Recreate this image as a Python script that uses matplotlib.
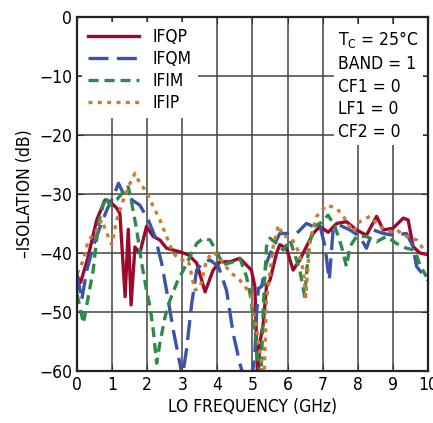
import numpy as np
import matplotlib
matplotlib.use("Agg")
import matplotlib.pyplot as plt

plt.rcParams['font.family'] = ['DejaVu Sans']
plt.rcParams['font.stretch'] = 'condensed'

# IFQP (solid red)
qp_f = [0.0, 0.1, 0.3, 0.56, 0.8, 0.94, 1.13, 1.22, 1.37, 1.46, 1.54, 1.65, 1.79, 1.98, 2.17,
        2.36, 2.55, 2.93, 3.17, 3.41, 3.65, 3.88, 4.07, 4.36, 4.64, 4.97, 5.07, 5.15, 5.21, 5.31,
        5.40, 5.50, 5.69, 5.78, 5.97, 6.16, 6.35, 6.54, 6.73, 6.92, 7.16, 7.40, 7.68, 7.97,
        8.25, 8.54, 8.73, 9.01, 9.30, 9.44, 9.58, 9.77, 10.0]
qp_db = [-44, -45, -41, -34.4, -31, -31.3, -32.4, -33.3, -47.4, -36, -48.8, -39, -40, -35.5, -37.2,
         -37.8, -39.2, -39.8, -40.3, -41.7, -46.6, -42.9, -41.5, -41.5, -40.9, -42.9, -45.7, -62, -55.3, -51.9,
         -45.7, -44.6, -40, -38.6, -39.2, -42.9, -41.2, -38.9, -36.7, -35.5, -36.5, -35, -34.7, -36.1,
         -37, -33.8, -36.1, -35.8, -34.1, -34.4, -38.9, -40, -40.3]

# IFQM (long dash blue)
qm_f = [0.0, 0.13, 0.28, 0.46, 0.66, 0.85, 1.03, 1.18, 1.32, 1.56, 1.79, 2.03, 2.22, 2.41, 2.55,
        2.74, 2.93, 3.0, 3.12, 3.27, 3.41, 3.6, 3.79, 4.03, 4.26, 4.45, 4.64, 4.8, 4.97, 5.07,
        5.12, 5.17, 5.26, 5.40, 5.59, 5.78, 5.97, 6.26, 6.54, 6.73, 6.92, 7.07, 7.19, 7.30, 7.49,
        7.78, 8.06, 8.25, 8.44, 8.73, 9.01, 9.39, 9.58, 9.68, 9.87, 10.0]
qm_db = [-43.5, -48, -42.9, -38.9, -35.5, -32.7, -30.5, -28.2, -29.9, -31, -31.9, -34.4, -37.2, -41.7, -46.3,
         -53, -58.7, -61, -56.4, -48.5, -42.9, -41.5, -41.2, -42.3, -46.3, -53.6, -58.7, -62, -62, -57,
         -50.2, -46, -45.7, -41.7, -38.9, -36.7, -36.7, -36.7, -35, -35.5, -35.3, -38.9, -44.6, -36.1, -35.3,
         -36.1, -37.2, -39.2, -36.1, -36.7, -37, -36.7, -38.9, -42.3, -43.7, -44.6]

# IFIM (short dash green)
im_f = [0.0, 0.18, 0.32, 0.46, 0.61, 0.8, 0.94, 1.13, 1.32, 1.46, 1.56, 1.70, 1.84, 1.98, 2.08,
        2.17, 2.27, 2.36, 2.51, 2.65, 2.84, 3.03, 3.22, 3.41, 3.6, 3.79, 3.98, 4.17, 4.45, 4.64,
        4.83, 4.93, 5.07, 5.17, 5.24, 5.31, 5.40, 5.50, 5.69, 5.88, 6.07, 6.35, 6.49, 6.59, 6.73,
        6.92, 7.16, 7.35, 7.54, 7.68, 7.78, 7.97, 8.25, 8.54, 8.82, 9.11, 9.39, 9.63, 9.77, 9.96]
im_db = [-47, -51.9, -47.4, -42.9, -35, -30.5, -31.9, -31, -29.6, -28.8, -31.6, -36.1, -41.7, -46.3, -49.1,
         -53, -58.7, -55.3, -50.8, -48, -45.1, -42.9, -40.6, -38.4, -37.5, -37.8, -39.8, -42, -41.5, -40.9,
         -44, -46.8, -53, -58.7, -62, -49, -38.9, -37.5, -38.4, -39.5, -37.8, -42.9, -47.4, -40, -35.5,
         -35, -33.6, -35.5, -38.9, -42.3, -38.9, -37.2, -37.2, -38.1, -37.2, -38.4, -39.2, -39.5, -42, -44]

# IFIP (dotted orange)
ip_f = [0.0, 0.18, 0.32, 0.51, 0.7, 0.85, 0.99, 1.13, 1.32, 1.51, 1.65, 1.79, 1.98, 2.17, 2.36,
        2.55, 2.74, 2.93, 3.17, 3.36, 3.51, 3.69, 3.88, 4.07, 4.36, 4.64, 4.93, 5.12, 5.26, 5.33,
        5.40, 5.50, 5.59, 5.74, 5.88, 6.07, 6.26, 6.45, 6.52, 6.64, 6.83, 7.11, 7.40, 7.59, 7.87,
        8.06, 8.35, 8.63, 8.92, 9.11, 9.39, 9.68, 9.96]
ip_db = [-43.5, -41.2, -37.8, -36.7, -34.4, -36.7, -38.6, -34.4, -31, -28.2, -26.5, -28.2, -29.6, -32.1, -34.4,
         -37.2, -40, -41.2, -41.2, -46.3, -45.8, -41.2, -39.8, -40.9, -43.2, -44.6, -46.8, -53, -58.7, -62,
         -48, -43.4, -38.9, -35.3, -37.2, -37.2, -38.9, -42.9, -47.4, -37.8, -33.8, -31.9, -32.4, -33.8, -36.4,
         -34.7, -33.8, -35.5, -36.4, -36.1, -37.2, -37.8, -40]

fig = plt.figure(figsize=(4.33, 4.23), dpi=100)
ax = fig.add_axes([0.178, 0.123, 0.81, 0.837])

ax.plot(qp_f, qp_db, color='#9b0a2e', lw=2.4, label='IFQP')
ax.plot(qm_f, qm_db, color='#3a55a8', lw=2.4, dashes=(6, 2.5), label='IFQM')
ax.plot(im_f, im_db, color='#2e8a4a', lw=2.4, dashes=(3, 1.8), label='IFIM')
ax.plot(ip_f, ip_db, color='#c87d35', lw=2.4, dashes=(1.2, 1.6), label='IFIP')

ax.set_xlim(0, 10)
ax.set_ylim(-60, 0)
ax.set_xticks(np.arange(0, 11, 1))
ax.set_yticks(np.arange(-60, 1, 10))
ax.set_yticklabels(['\u221260', '\u221250', '\u221240', '\u221230', '\u221220', '\u221210', '0'])
ax.grid(True, color='#444444', lw=1.1)
ax.set_axisbelow(True)
ax.tick_params(direction='in', length=5, top=True, right=True, labelsize=12.5, color='#333333')
for s in ax.spines.values():
    s.set_linewidth(1.6)
    s.set_color('#222222')

ax.set_xlabel('LO FREQUENCY (GHz)', fontsize=12.5, labelpad=3)
ax.set_ylabel('\u2013ISOLATION (dB)', fontsize=12.5)

leg = ax.legend(loc='upper left', frameon=True, fontsize=12.5, handlelength=2.9,
                borderaxespad=0.3, labelspacing=0.22, handletextpad=0.8, borderpad=0.35)
leg.get_frame().set_edgecolor('none')
leg.get_frame().set_facecolor('white')
leg.get_frame().set_alpha(1)

ax.text(0.745, 0.965, 'T$_\\mathregular{C}$ = 25\u00b0C\nBAND = 1\nCF1 = 0\nLF1 = 0\nCF2 = 0',
        transform=ax.transAxes, ha='left', va='top', fontsize=12.5, linespacing=1.33,
        bbox=dict(facecolor='white', edgecolor='none', pad=3))

fig.savefig('out.png', dpi=100)
